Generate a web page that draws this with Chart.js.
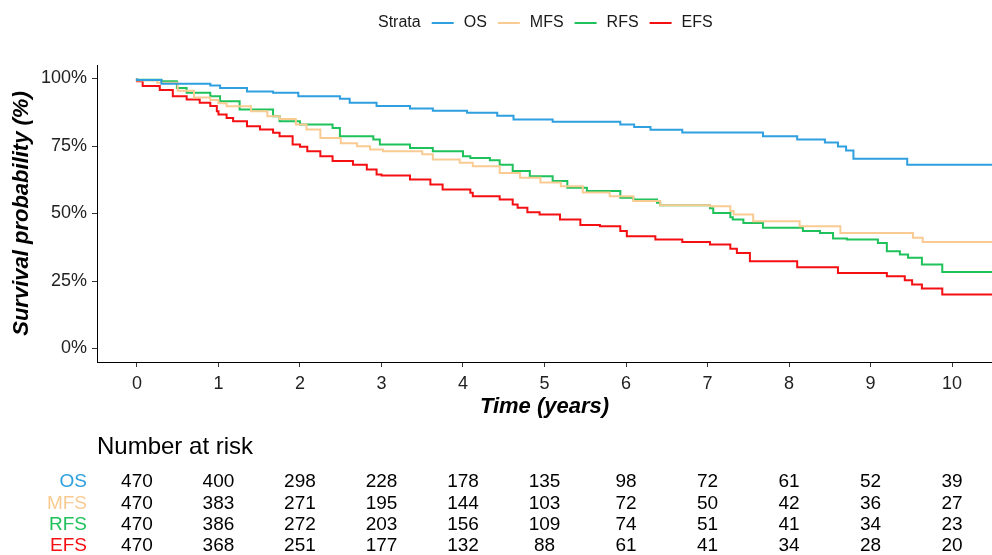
<!DOCTYPE html>
<html>
<head>
<meta charset="utf-8">
<script src="https://cdn.jsdelivr.net/npm/chart.js@4/dist/chart.umd.min.js"></script>
<style>
  html, body { margin: 0; padding: 0; background: #fff; }
  #wrap { width: 992px; height: 555px; }
</style>
</head>
<body>
<div id="wrap"><canvas id="kmChart" width="992" height="555"></canvas></div>
<script>
const strata = ["OS", "MFS", "RFS", "EFS"]
const colors = ["#2E9FDF", "#F9CB93", "#1FC25A", "#F40F12"]

// step points: [time (years), survival %]
const osCurve = [[0,100],[0.3,99.4],[0.9,98.1],[1.02,97.4],[1.35,96.5],[1.67,95.2],[1.98,94.7],[2.49,93.4],[2.61,92.5],[2.94,91],[3.35,89.8],[3.63,88.9],[4.05,88.1],[4.42,87.3],[4.62,86.2],[5.1,84.8],[5.93,84],[6.1,83],[6.3,82],[6.69,81],[7.68,80],[8.1,78.6],[8.44,77.4],[8.6,76.3],[8.7,74.8],[8.79,73.3],[9.45,70.3],[9.88,68.1],[10.49,68.1]]
const mfsCurve = [[0,100],[0.25,99.3],[0.5,98.4],[0.7,95.5],[0.9,93],[1.0,92],[1.1,90.8],[1.4,89.7],[1.6,87.9],[1.75,86],[1.95,85],[2.08,83],[2.25,81.1],[2.5,78],[2.7,76],[2.86,74.9],[3.02,73.7],[3.5,73.1],[3.63,71.9],[3.96,70],[4.12,68.8],[4.45,67.5],[4.7,65],[4.95,63.2],[5.2,61.5],[5.47,60.1],[5.8,57.8],[6.09,56.4],[6.42,54.6],[7.03,53.1],[7.28,52.7],[7.32,50.9],[7.56,49.6],[8.13,47.1],[8.63,45.3],[9.52,42.8],[9.64,41],[9.88,39.4],[10.49,39.4]]
const rfsCurve = [[0,100],[0.3,99.5],[0.49,99],[0.61,96.5],[0.9,94.7],[1.02,93.4],[1.26,91.6],[1.67,88.5],[1.75,86],[2.0,84.2],[2.4,83],[2.49,81.7],[2.9,78.6],[2.98,77.4],[3.35,75.6],[3.63,74.3],[4.0,73.1],[4.09,71.2],[4.33,70.6],[4.45,69.7],[4.61,68.1],[4.82,65.7],[5.1,63.8],[5.28,62],[5.52,59.5],[5.93,58.3],[6.09,55.8],[6.38,55.2],[6.42,54],[7.03,53.1],[7.07,51.9],[7.28,50.2],[7.31,48.6],[7.44,47.8],[7.68,46.5],[8.17,44.7],[8.38,43.5],[8.54,42.8],[8.71,40.7],[9.09,40.4],[9.2,39.1],[9.36,36],[9.46,34.8],[9.63,33.6],[9.88,31.1],[10.2,28.3],[10.49,28.3]]
const efsCurve = [[0,100],[0.07,99],[0.28,97.2],[0.44,95.7],[0.61,93.4],[0.77,92.2],[0.9,91],[0.98,89.8],[1.0,87.9],[1.1,86.7],[1.18,85.4],[1.35,84.2],[1.51,82.3],[1.67,81.1],[1.75,79.9],[1.91,78.6],[2.0,75.6],[2.09,74.7],[2.25,73.1],[2.4,71.2],[2.65,69.4],[2.82,68.1],[2.94,66.3],[3.0,64.4],[3.35,64.1],[3.6,62.6],[3.75,60.7],[4.09,58.9],[4.12,57.7],[4.45,56.4],[4.61,55.2],[4.67,53.3],[4.79,52.1],[4.94,50.5],[5.19,49.6],[5.44,47.8],[5.68,45.7],[5.93,45.3],[6.01,43.5],[6.36,41.6],[6.69,40.4],[7.03,39.4],[7.28,38.5],[7.36,36.9],[7.52,35.4],[8.1,32.3],[8.6,30.1],[9.2,28],[9.42,26.8],[9.51,25.3],[9.63,23.7],[9.88,22.2],[10.2,20],[10.49,20]]

const xTicks = [0, 1, 2, 3, 4, 5, 6, 7, 8, 9, 10]
const yTicks = [0, 25, 50, 75, 100]

// number at risk, one value per x tick
const riskOS  = [470, 400, 298, 228, 178, 135, 98, 72, 61, 52, 39]
const riskMFS = [470, 383, 271, 195, 144, 103, 72, 50, 42, 36, 27]
const riskRFS = [470, 386, 272, 203, 156, 109, 74, 51, 41, 34, 23]
const riskEFS = [470, 368, 251, 177, 132, 88, 61, 41, 34, 28, 20]
const riskRows = [riskOS, riskMFS, riskRFS, riskEFS]

const FONT = "'Liberation Sans', Arial, sans-serif"
const curves = [osCurve, mfsCurve, rfsCurve, efsCurve]

// legend row on top: "Strata" + line keys
const stripLegend = {
    id: "stripLegend",
    afterDraw(chart) {
        const ctx = chart.ctx
        ctx.save()
        ctx.font = "16px " + FONT
        ctx.textBaseline = "middle"
        ctx.fillStyle = "#1a1a1a"
        let x = 378
        const y = 23
        ctx.fillText("Strata", x, y)
        x += ctx.measureText("Strata").width + 11
        chart.data.datasets.forEach((ds) => {
            ctx.strokeStyle = ds.borderColor
            ctx.lineWidth = 2
            ctx.beginPath()
            ctx.moveTo(x, y)
            ctx.lineTo(x + 22, y)
            ctx.stroke()
            x += 32
            ctx.fillStyle = "#1a1a1a"
            ctx.fillText(ds.label, x, y)
            x += ctx.measureText(ds.label).width + 11
        })
        ctx.restore()
    }
}

// risk table under the x axis, columns placed by the x scale
const riskTable = {
    id: "riskTable",
    afterDraw(chart) {
        const ctx = chart.ctx
        const xs = chart.scales.x
        ctx.save()
        ctx.textBaseline = "middle"
        ctx.font = "24px " + FONT
        ctx.fillStyle = "#000"
        ctx.textAlign = "left"
        ctx.fillText("Number at risk", chart.chartArea.left, 447)
        ctx.font = "19px " + FONT
        riskRows.forEach((row, i) => {
            const y = 482 + i * 21.4
            ctx.textAlign = "right"
            ctx.fillStyle = colors[i]
            ctx.fillText(strata[i], 87, y)
            ctx.textAlign = "center"
            ctx.fillStyle = "#000"
            row.forEach((n, j) => {
                ctx.fillText(String(n), xs.getPixelForValue(xTicks[j]), y)
            })
        })
        ctx.restore()
    }
}

new Chart(document.getElementById("kmChart"), {
    type: "line",
    data: {
        datasets: curves.map((c, i) => ({
            label: strata[i],
            data: c.map(([t, s]) => ({ x: t, y: s })),
            borderColor: colors[i],
            backgroundColor: colors[i],
            borderWidth: 2,
            pointRadius: 0,
            stepped: "after",
            fill: false
        }))
    },
    options: {
        responsive: false,
        animation: false,
        devicePixelRatio: 1,
        layout: { padding: { top: 65, right: 0, bottom: 135, left: 0 } },
        plugins: {
            legend: { display: false },
            tooltip: { enabled: false }
        },
        scales: {
            x: {
                type: "linear",
                min: -0.49,
                max: 10.49,
                afterBuildTicks: (s) => { s.ticks = xTicks.map(v => ({ value: v })) },
                afterFit: (s) => { s.height = 58 },
                grid: { display: true, drawOnChartArea: false, drawTicks: true, tickLength: 5, color: "#333" },
                border: { display: true, color: "#000", width: 1 },
                ticks: { color: "#222", font: { family: FONT, size: 18 }, padding: 6, maxRotation: 0 },
                title: {
                    display: true,
                    text: "Time (years)",
                    color: "#000",
                    font: { family: FONT, size: 22, weight: "bold", style: "italic" },
                    padding: { top: 0, bottom: 0 }
                }
            },
            y: {
                min: -5,
                max: 105,
                afterBuildTicks: (s) => { s.ticks = yTicks.map(v => ({ value: v })) },
                afterFit: (s) => { s.width = 97 },
                grid: { display: true, drawOnChartArea: false, drawTicks: true, tickLength: 5, color: "#333" },
                border: { display: true, color: "#000", width: 1 },
                ticks: { color: "#222", font: { family: FONT, size: 18 }, padding: 5, callback: (v) => v + "%" },
                title: {
                    display: true,
                    text: "Survival probability (%)",
                    color: "#000",
                    font: { family: FONT, size: 22, weight: "bold", style: "italic" },
                    padding: { top: 9, bottom: 0 }
                }
            }
        }
    },
    plugins: [stripLegend, riskTable]
})
</script>
</body>
</html>
